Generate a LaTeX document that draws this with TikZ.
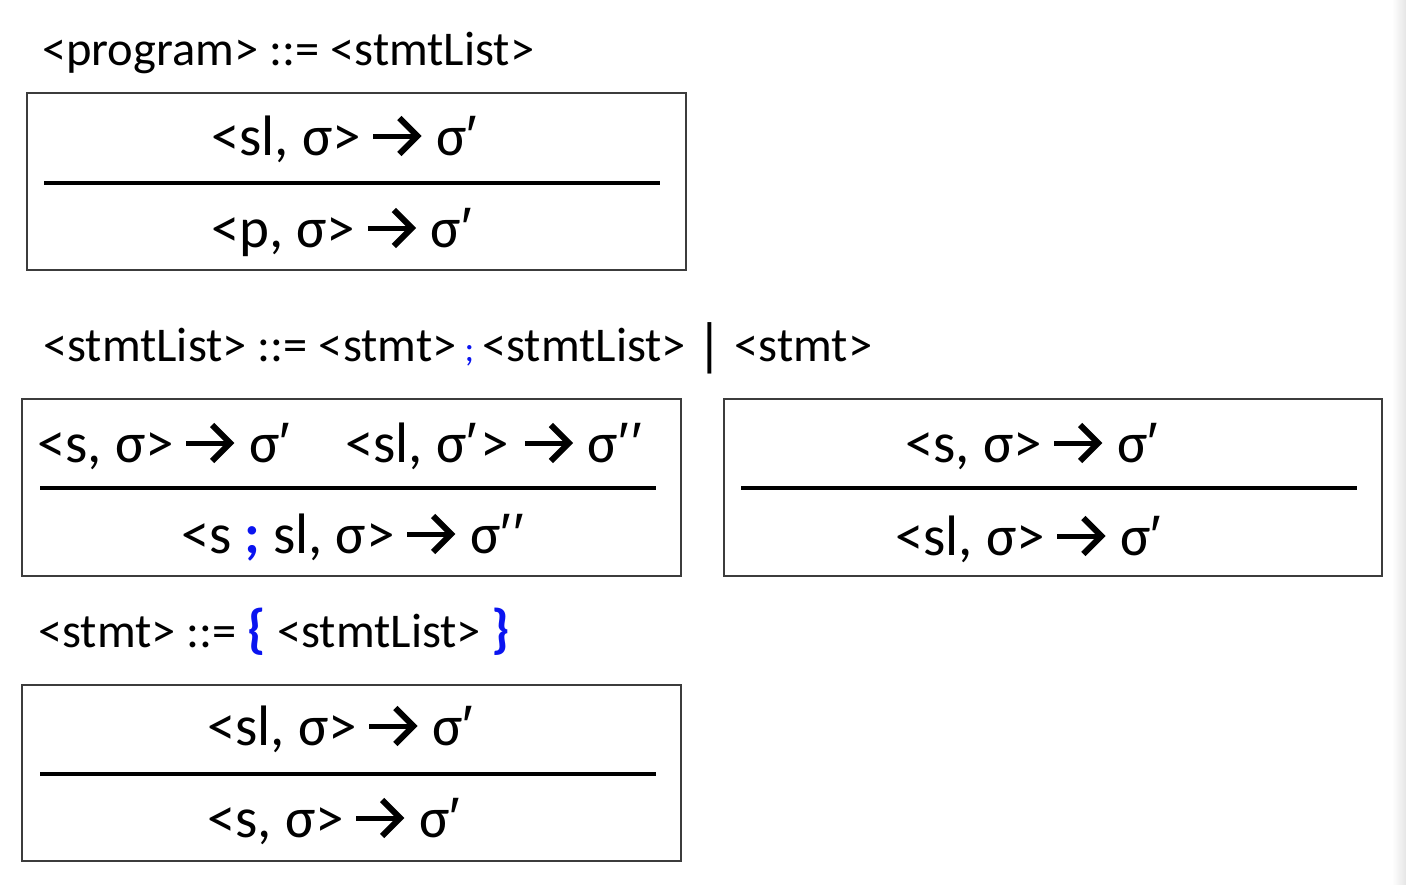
\documentclass[tikz,border=0pt]{standalone}
\usepackage{fontspec}
\setmainfont{Carlito}
\newfontfamily\primefont{Liberation Sans}
\definecolor{ruleblue}{RGB}{10,20,240}
\definecolor{boxgray}{RGB}{60,60,60}
\newcommand{\pr}{{\primefont ′}\hspace{3pt}}
\newcommand{\dpr}{{\primefont ′}\hspace{2.5pt}{\primefont ′}}
\newcommand{\thickarr}{\tikz[x=1pt,y=1pt,baseline=0pt]{%
  \draw[line width=5pt] (0,19)--(42,19);
  \draw[line width=6pt,line join=miter,line cap=butt] (26,37)--(44,19)--(26,1);}}
\newcommand{\RA}{\hspace{10pt}\thickarr\hspace{16pt}}
\begin{document}
\begin{tikzpicture}[x=1pt,y=-1pt,
  title/.style={anchor=base west,inner sep=0pt,font=\fontsize{48.5}{56}\selectfont},
  judg/.style={anchor=base west,inner sep=0pt,font=\fontsize{57}{64}\selectfont},
  rulebox/.style={draw=boxgray,line width=1.6pt},
  ruleline/.style={line width=4pt,black}]
\useasboundingbox (0,0) rectangle (1406,884);
\fill[white] (0,0) rectangle (1406,884);
\shade[left color=white,right color=black!10] (1392,0) rectangle (1406,884);

% ---- program rule
\node[title] (t1) at (42,65) {<program> ::= <stmtList>};
\draw[rulebox] (27,93) rectangle (686,270);
\coordinate (l1a) at (44,183); \coordinate (l1b) at (660,183);
\draw[ruleline] (l1a) -- (l1b);
\node[judg] (p1) at (211,155) {<sl, σ>\RA σ\pr};
\node[judg] (c1) at (211,247) {<p, σ>\RA σ\pr};

% ---- stmtList rules
\node[title] (t2) at (43,361) {<stmtList> ::= <stmt>\,{\color{ruleblue}\fontsize{36}{40}\selectfont;}\,<stmtList> {\fontsize{58}{60}\selectfont\raisebox{-3pt}{|}} <stmt>};
\draw[rulebox] (22,399) rectangle (681,576);
\coordinate (l2a) at (40,488); \coordinate (l2b) at (656,488);
\draw[ruleline] (l2a) -- (l2b);
\node[judg] (p2) at (37,462) {<s, σ>\RA σ\pr\hspace{52pt}<sl, σ\pr>\hspace{4pt}\RA σ\dpr};
\node[judg] (c2) at (181,553) {<s {\color{ruleblue}\bfseries;} sl, σ>\RA σ\dpr};

\draw[rulebox] (724,399) rectangle (1382,576);
\coordinate (l3a) at (741,488); \coordinate (l3b) at (1357,488);
\draw[ruleline] (l3a) -- (l3b);
\node[judg] (p3) at (905,462) {<s, σ>\RA σ\pr};
\node[judg] (c3) at (895,555) {<sl, σ>\RA σ\pr};

% ---- stmt rule
\node[title] (t3) at (38,647) {<stmt> ::= {\color{ruleblue}\bfseries\fontsize{54}{56}\selectfont\{} <stmtList> {\color{ruleblue}\bfseries\fontsize{54}{56}\selectfont\}}};
\draw[rulebox] (22,685) rectangle (681,861);
\coordinate (l4a) at (40,774); \coordinate (l4b) at (656,774);
\draw[ruleline] (l4a) -- (l4b);
\node[judg] (p4) at (207,745) {<sl, σ>\RA σ\pr};
\node[judg] (c4) at (207,837) {<s, σ>\RA σ\pr};
\end{tikzpicture}
\end{document}
